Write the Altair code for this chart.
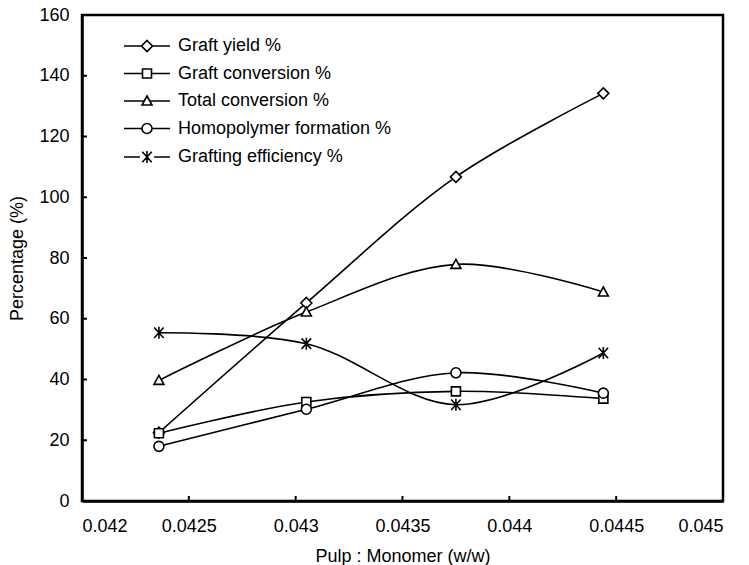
import altair as alt
import pandas as pd

# Pulp : monomer ratio (w/w) for the four runs
ratio = [0.04236, 0.04305, 0.04375, 0.04444]

graft_yield = [22.5, 65.2, 106.7, 134.2]
graft_conversion = [22.3, 32.6, 36.1, 33.7]
total_conversion = [39.7, 62.2, 77.9, 68.8]
homopolymer_formation = [18.0, 30.2, 42.2, 35.5]
grafting_efficiency = [55.4, 51.8, 31.7, 48.7]

series_names = [
    "Graft yield %",
    "Graft conversion %",
    "Total conversion %",
    "Homopolymer formation %",
    "Grafting efficiency %",
]
series_values = [
    graft_yield,
    graft_conversion,
    total_conversion,
    homopolymer_formation,
    grafting_efficiency,
]

x_ticks = [0.042, 0.0425, 0.043, 0.0435, 0.044, 0.0445, 0.045]
y_ticks = [0, 20, 40, 60, 80, 100, 120, 140, 160]

X_MIN, X_MAX = 0.042, 0.045
Y_MIN, Y_MAX = 0, 160
PLOT_W, PLOT_H = 641, 486
TICK_PX = 5
FONT = "Liberation Sans"

# Marker outlines (unit space, scaled by the symbol size)
marker_paths = [
    "M0,-1.1L1.1,0L0,1.1L-1.1,0Z",
    "M-0.9,-0.9H0.9V0.9H-0.9Z",
    "M0,-1L1,0.8H-1Z",
    "M1,0A1,1,0,1,1,-1,0A1,1,0,1,1,1,0Z",
    "M-0.95,-1.05L0.95,1.05M-0.95,1.05L0.95,-1.05M0,-1.2V1.2",
]
# Legend keys: the same markers with a line segment on each side
gaps = [1.1, 0.9, 0.56, 1.0, 1.4]
legend_paths = [
    f"M-4.6,0H{-g}M{g},0H4.6" + p for g, p in zip(gaps, marker_paths)
]

rows = []
for name, vals in zip(series_names, series_values):
    for r, v in zip(ratio, vals):
        rows.append({"ratio": r, "value": v, "series": name, "key": name})
df = pd.DataFrame(rows)

# Inward tick marks along the left and bottom axes
tick_len_x = (X_MAX - X_MIN) * TICK_PX / PLOT_W
tick_len_y = (Y_MAX - Y_MIN) * TICK_PX / PLOT_H
xt = pd.DataFrame({
    "ratio": x_ticks[1:-1],
    "ratio2": x_ticks[1:-1],
    "value": [Y_MIN] * (len(x_ticks) - 2),
    "value2": [Y_MIN + tick_len_y] * (len(x_ticks) - 2),
})
yt = pd.DataFrame({
    "ratio": [X_MIN] * (len(y_ticks) - 2),
    "ratio2": [X_MIN + tick_len_x] * (len(y_ticks) - 2),
    "value": y_ticks[1:-1],
    "value2": y_ticks[1:-1],
})

x_axis = alt.Axis(
    values=x_ticks, format=".4~f", title="Pulp : Monomer (w/w)",
    labelPadding=16, titlePadding=12,
)
y_axis = alt.Axis(
    values=y_ticks, title="Percentage (%)", labelPadding=13, titlePadding=12,
)
X = alt.X("ratio:Q", scale=alt.Scale(domain=[X_MIN, X_MAX], nice=False, zero=False), axis=x_axis)
Y = alt.Y("value:Q", scale=alt.Scale(domain=[Y_MIN, Y_MAX], nice=False), axis=y_axis)

x_tick_layer = alt.Chart(xt).mark_rule(color="black", strokeWidth=2).encode(
    x=X, y=Y, y2="value2:Q"
)
y_tick_layer = alt.Chart(yt).mark_rule(color="black", strokeWidth=2).encode(
    x=X, x2="ratio2:Q", y=Y
)

lines = alt.Chart(df).mark_line(
    interpolate="catmull-rom", color="black", strokeWidth=1.6
).encode(x=X, y=Y, detail="series:N")

points = alt.Chart(df).mark_point(
    filled=True, fill="white", stroke="black", strokeWidth=1.6, size=100, opacity=1
).encode(
    x=X,
    y=Y,
    shape=alt.Shape(
        "series:N",
        scale=alt.Scale(domain=series_names, range=marker_paths),
        legend=None,
    ),
)

legend_layer = alt.Chart(df).mark_point(
    filled=False, color="black", strokeWidth=1.6, size=100
).encode(
    x=X,
    y=Y,
    opacity=alt.value(0),
    shape=alt.Shape(
        "key:N",
        sort=series_names,
        scale=alt.Scale(domain=series_names, range=legend_paths),
        legend=alt.Legend(
            title=None,
            orient="none",
            legendX=56,
            legendY=22,
            padding=0,
            symbolSize=100,
            symbolStrokeWidth=1.6,
            symbolStrokeColor="black",
            symbolFillColor="white",
            symbolOpacity=1,
            labelFont=FONT,
            labelFontSize=18,
            labelColor="black",
            labelOffset=22,
            labelLimit=0,
            rowPadding=9.5,
        ),
    ),
)

chart = (
    alt.layer(x_tick_layer, y_tick_layer, lines, legend_layer, points)
    .resolve_scale(shape="independent")
    .resolve_legend(shape="independent")
    .properties(
        width=PLOT_W,
        height=PLOT_H,
        padding={"left": 82, "top": 15, "right": 26, "bottom": 64},
        autosize=alt.AutoSizeParams(type="none"),
        background="white",
    )
    .configure_view(stroke="black", strokeWidth=2.5)
    .configure_axis(
        grid=False,
        ticks=False,
        tickSize=0,
        domainColor="black",
        domainWidth=2.5,
        labelFont=FONT,
        labelFontSize=18,
        labelColor="black",
        titleFont=FONT,
        titleFontSize=18,
        titleFontWeight="normal",
        titleColor="black",
    )
)

chart.save("out.html", embed_options={"renderer": "svg", "actions": False})
